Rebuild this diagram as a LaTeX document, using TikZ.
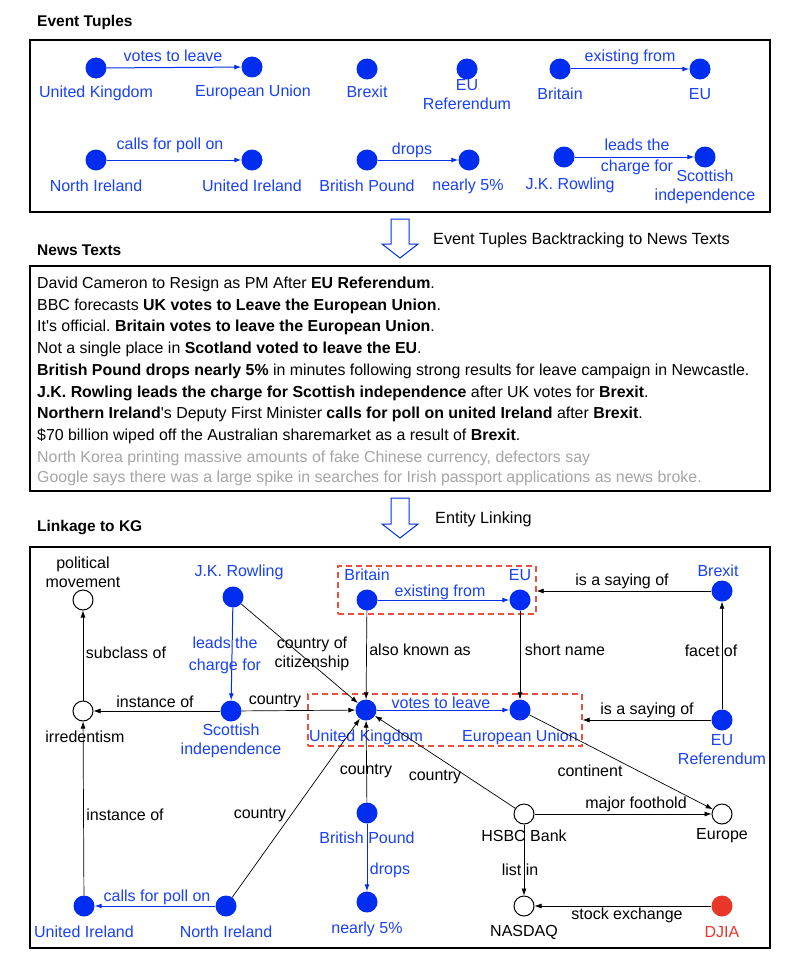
\documentclass[tikz,border=0pt]{standalone}
\usepackage{fontspec}
\setmainfont{Liberation Sans}
\usetikzlibrary{arrows.meta}
\definecolor{kgblue}{RGB}{0,45,240}
\definecolor{txtblue}{RGB}{25,65,245}
\definecolor{djred}{RGB}{232,54,40}
\definecolor{dashred}{RGB}{235,80,65}
\definecolor{graytxt}{RGB}{165,165,165}
\newcommand\lf{\fontsize{16}{19}\selectfont}
\newcommand\nf{\fontsize{15.9}{19}\selectfont}
\newcommand\tf{\fontsize{15.5}{18}\selectfont\bfseries}
\frenchspacing
\begin{document}
\begin{tikzpicture}[x=1pt,y=-1pt,
  bn/.style={circle,fill=kgblue,inner sep=0pt,minimum size=21pt},
  on/.style={circle,draw=black,line width=1pt,fill=white,inner sep=0pt,minimum size=20pt},
  rn/.style={circle,fill=djred,inner sep=0pt,minimum size=21pt},
  bl/.style={font=\lf,text=txtblue,align=center,inner sep=0pt},
  kl/.style={font=\lf,text=black,align=center,inner sep=0pt},
  rl/.style={font=\lf,text=djred,align=center,inner sep=0pt},
  barr/.style={draw=kgblue,line width=1pt,-{Latex[length=7pt,width=5pt]}},
  karr/.style={draw=black,line width=0.7pt,-{Latex[length=7pt,width=5pt]}},
  frame/.style={draw=black,line width=1.3pt,inner sep=0pt},
  dbox/.style={draw=dashred,line width=1.2pt,dash pattern=on 6pt off 4pt,inner sep=0pt},
  ttl/.style={font=\tf,anchor=west,inner sep=0pt},
  nl/.style={font=\nf,anchor=west,inner sep=0pt},
  hollow/.style={draw=kgblue,line width=1pt,fill=white,line join=miter}
]
\fill[white] (0,0) rectangle (788,958);
\useasboundingbox (0,0) rectangle (788,958);

% ---------- Event Tuples ----------
\node[ttl] (t1) at (37,22) {Event Tuples};
\node[frame,minimum width=740pt,minimum height=172pt] (f1) at (400,126) {};

\node[bn] (tuk) at (96,68) {};
\node[bn] (teu) at (252,67) {};
\node[bn] (tbrexit) at (367,69) {};
\node[bn] (teuref) at (467,69) {};
\node[bn] (tbritain) at (560,69) {};
\node[bn] (teu2) at (700,69) {};
\node[bn] (tni) at (96,160) {};
\node[bn] (tui) at (252,160) {};
\node[bn] (tbp) at (367,160) {};
\node[bn] (tn5) at (469,160) {};
\node[bn] (tjk) at (564,157) {};
\node[bn] (tsi) at (705,157) {};

\node[bl] (ltuk) at (96,93) {United Kingdom};
\node[bl] (lteu) at (253,92) {European Union};
\node[bl] (ltbrexit) at (367,92) {Brexit};
\node[bl] (lteuref) at (467,95) {EU\\Referendum};
\node[bl] (ltbritain) at (560,94) {Britain};
\node[bl] (lteu2) at (700,94) {EU};
\node[bl] (ltni) at (96,186) {North Ireland};
\node[bl] (ltui) at (252,186) {United Ireland};
\node[bl] (ltbp) at (367,186) {British Pound};
\node[bl] (ltn5) at (468,186) {nearly 5\%};
\node[bl] (ltjk) at (570,185) {J.K. Rowling};
\node[bl] (ltsi) at (705,187) {Scottish\\independence};

\draw[barr] (tuk) -- (teu);
\draw[barr] (tbritain) -- (teu2);
\draw[barr] (tni) -- (tui);
\draw[barr] (tbp) -- (tn5);
\draw[barr] (tjk) -- (tsi);
\node[bl] (e1) at (173,56) {votes to leave};
\node[bl] (e2) at (630,57) {existing from};
\node[bl] (e3) at (170,145) {calls for poll on};
\node[bl] (e4) at (412,150) {drops};
\node[bl] (e5) at (637,145) {leads the};
\node[bl] (e6) at (637,167) {charge for};

% ---------- arrow 1 ----------
\draw[hollow] (391,219) -- (409,219) -- (409,244) -- (418,244) -- (400,258) -- (382,244) -- (391,244) -- cycle;
\node[font=\fontsize{16.2}{19}\selectfont,anchor=west,inner sep=0pt] (a1) at (433,240) {Event Tuples Backtracking to News Texts};

% ---------- News Texts ----------
\node[ttl] (t2) at (37,250) {News Texts};
\node[frame,minimum width=740pt,minimum height=225pt] (f2) at (400,378.5) {};
\node[nl] (n1) at (37,284) {David Cameron to Resign as PM After \textbf{EU Referendum}.};
\node[nl] (n2) at (37,306) {BBC forecasts \textbf{UK votes to Leave the European Union}.};
\node[nl] (n3) at (37,327) {It\textquotesingle s official. \textbf{Britain votes to leave the European Union}.};
\node[nl] (n4) at (37,349) {Not a single place in \textbf{Scotland voted to leave the EU}.};
\node[nl] (n5) at (37,371) {\textbf{British Pound drops nearly 5\%} in minutes following strong results for leave campaign in Newcastle.};
\node[nl] (n6) at (37,393) {\textbf{J.K. Rowling leads the charge for Scottish independence} after UK votes for \textbf{Brexit}.};
\node[nl] (n7) at (37,414) {\textbf{Northern Ireland}\textquotesingle s Deputy First Minister \textbf{calls for poll on united Ireland} after \textbf{Brexit}.};
\node[nl] (n8) at (37,436) {\$70 billion wiped off the Australian sharemarket as a result of \textbf{Brexit}.};
\node[nl,text=graytxt] (n9) at (37,458) {North Korea printing massive amounts of fake Chinese currency, defectors say};
\node[nl,text=graytxt] (n10) at (37,478) {Google says there was a large spike in searches for Irish passport applications as news broke.};

% ---------- arrow 2 ----------
\draw[hollow] (391,498) -- (409,498) -- (409,524) -- (418,524) -- (400,538) -- (382,524) -- (391,524) -- cycle;
\node[font=\fontsize{16.2}{19}\selectfont,anchor=west,inner sep=0pt] (a2) at (435,519) {Entity Linking};

% ---------- Linkage to KG ----------
\node[ttl] (t3) at (37,528) {Linkage to KG};
\node[frame,minimum width=740pt,minimum height=401pt] (f3) at (400,747.5) {};
\node[dbox,minimum width=198pt,minimum height=48pt] (db1) at (437,590) {};
\node[dbox,minimum width=274pt,minimum height=52pt] (db2) at (445,720) {};

\node[on] (pm) at (83,600) {};
\node[on] (irr) at (83,711) {};
\node[bn] (jk) at (233,597) {};
\node[bn] (si) at (231,711) {};
\node[bn] (uk) at (366,710) {};
\node[bn] (britain) at (367,600) {};
\node[bn] (eu) at (520,600) {};
\node[bn] (eun) at (520,710) {};
\node[bn] (brexit) at (722,591) {};
\node[bn] (euref) at (722,720) {};
\node[bn] (bp) at (367,813) {};
\node[bn] (n5k) at (367,902) {};
\node[on] (hsbc) at (524,814) {};
\node[on] (europe) at (722,814) {};
\node[on] (nasdaq) at (524,906) {};
\node[rn] (djia) at (722,906) {};
\node[bn] (ui) at (84,906) {};
\node[bn] (ni) at (226,906) {};

\node[kl] (lpm) at (83,572) {political\\movement};
\node[kl] (lirr) at (85,737) {irredentism};
\node[bl] (ljk) at (239,572) {J.K. Rowling};
\node[bl] (lsi) at (231,741) {Scottish\\independence};
\node[bl] (luk) at (366,737) {United Kingdom};
\node[bl] (lbritain) at (367,575) {Britain};
\node[bl] (leu) at (520,575) {EU};
\node[bl] (leun) at (520,737) {European Union};
\node[bl] (lbrexit) at (718,571) {Brexit};
\node[bl] (leuref) at (722,750) {EU\\Referendum};
\node[bl] (lbp) at (367,838) {British Pound};
\node[bl] (ln5) at (367,929) {nearly 5\%};
\node[kl] (lhsbc) at (524,836) {HSBC Bank};
\node[kl] (leurope) at (722,836) {Europe};
\node[kl] (lnasdaq) at (524,932) {NASDAQ};
\node[rl] (ldjia) at (722,932) {DJIA};
\node[bl] (lui) at (84,932) {United Ireland};
\node[bl] (lni) at (226,932) {North Ireland};

\draw[barr] (britain) -- (eu);
\draw[karr] (britain) -- (uk);
\draw[karr] (eu) -- (eun);
\draw[karr] (brexit) -- (brexit -| db1.east);
\draw[karr] (euref) -- (euref -| db2.east);
\draw[karr] (euref) -- (brexit);
\draw[barr] (uk) -- (eun);
\draw[barr] (jk) -- (si);
\draw[karr] (jk) -- (uk);
\draw[karr] (si) -- (uk);
\draw[karr] (si) -- (irr);
\draw[karr] (irr) -- (pm);
\draw[karr] (ui) -- (irr);
\draw[barr] (ni) -- (ui);
\draw[karr] (ni) -- (uk);
\draw[karr] (bp) -- (uk);
\draw[barr] (bp) -- (n5k);
\draw[karr] (hsbc) -- (uk);
\draw[karr] (eun) -- (europe);
\draw[karr] (hsbc) -- (europe);
\draw[karr] (hsbc) -- (nasdaq);
\draw[karr] (djia) -- (nasdaq);

\node[bl] (k1) at (440,592) {existing from};
\node[kl] (k2) at (420,650) {also known as};
\node[kl] (k3) at (565,650) {short name};
\node[kl] (k4) at (622,581) {is a saying of};
\node[kl] (k5) at (647,710) {is a saying of};
\node[kl] (k6) at (711,651) {facet of};
\node[bl] (k7) at (441,703) {votes to leave};
\node[bl] (k8) at (225,643) {leads the};
\node[bl] (k9) at (225,666) {charge for};
\node[kl] (k10) at (312,654) {country of\\citizenship};
\node[kl] (k11) at (275,701) {country};
\node[kl] (k12) at (155,702) {instance of};
\node[kl] (k13) at (126,653) {subclass of};
\node[kl] (k14) at (125,815) {instance of};
\node[bl] (k15) at (157,897) {calls for poll on};
\node[kl] (k16) at (260,815) {country};
\node[kl] (k17) at (366,771) {country};
\node[bl] (k18) at (390,870) {drops};
\node[kl] (k19) at (435,777) {country};
\node[kl] (k20) at (590,771) {continent};
\node[kl] (k21) at (636,804) {major foothold};
\node[kl] (k22) at (520,870) {list in};
\node[kl] (k23) at (627,915) {stock exchange};
\end{tikzpicture}
\end{document}
